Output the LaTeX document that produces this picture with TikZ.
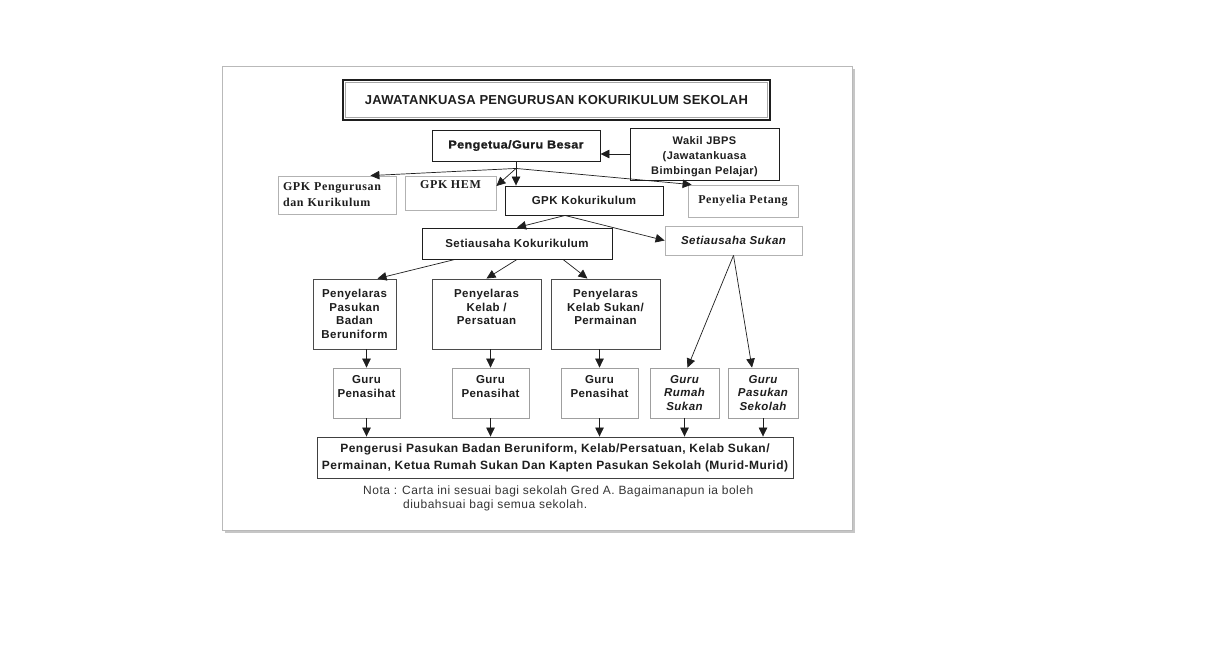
\documentclass[tikz,border=0pt]{standalone}
\usepackage{fontspec}
\setmainfont{Liberation Sans}[LetterSpace=4]
\newfontfamily\serifb{Liberation Serif}[LetterSpace=5]
\newfontfamily\titlef{Liberation Sans}[LetterSpace=2]
\newfontfamily\blackf{Liberation Sans}[BoldFeatures={FakeBold=1.2, FakeStretch=1.1}, LetterSpace=3]
\usetikzlibrary{arrows.meta,calc}
\definecolor{ink}{HTML}{1E1E1E}
\tikzset{
  box/.style={draw=ink, line width=0.9pt, fill=white, align=center, inner sep=2pt, font=\fontsize{11.5}{13.5}\selectfont\bfseries, text=ink},
  gbox/.style={box, draw=gray!60, line width=0.8pt},
  sbox/.style={gbox, font=\fontsize{12}{16}\serifb\bfseries},
  arr/.style={draw=ink, line width=0.7pt, -{Triangle[length=9pt,width=8.5pt]}},
  ln/.style={draw=ink, line width=0.7pt},
}
\begin{document}
\begin{tikzpicture}[x=1pt,y=-1pt]
\useasboundingbox (0,0) rectangle (1218,645);
\fill[white] (0,0) rectangle (1218,645);
% card with shadow
\fill[gray!45] (225,69) rectangle (855,533);
\draw[gray!55, line width=0.6pt, fill=white] (222,66) rectangle (852,530);
% title
\node[draw=ink, line width=2pt, minimum width=427, minimum height=40, inner sep=0pt,
      font=\fontsize{13}{14}\titlef\bfseries, text=ink] (title) at (556.5,100)
      {\raisebox{-4pt}{JAWATANKUASA PENGURUSAN KOKURIKULUM SEKOLAH}};
\draw[gray!70, line width=0.6pt] ([shift={(3.5,3.5)}]title.north west) rectangle ([shift={(-3.5,-3.5)}]title.south east);
% top level
\node[box, minimum width=168, minimum height=31, font=\fontsize{11.5}{13}\blackf\bfseries] (peng) at (516,145.5) {Pengetua/Guru Besar};
\node[box, minimum width=149, minimum height=52, font=\fontsize{11}{15}\selectfont\bfseries] (wakil) at (704.5,154) {\rule{0pt}{14pt}Wakil JBPS\\(Jawatankuasa\\Bimbingan Pelajar)};
% second level
\node[sbox, minimum width=118, minimum height=38, text width=108, align=left] (gpkp) at (337,195) {GPK Pengurusan\\dan Kurikulum};
\node[sbox, minimum width=91, minimum height=34] (gpkh) at (450.5,193) {GPK HEM\\\mbox{}};
\node[box, minimum width=158, minimum height=29] (gpkk) at (584,200.5) {GPK Kokurikulum};
\node[sbox, minimum width=110, minimum height=32, font=\fontsize{12}{13}\serifb\bfseries] (peny) at (743,201) {Penyelia Petang};
% third level
\node[box, minimum width=190, minimum height=31] (setk) at (517,243.5) {Setiausaha Kokurikulum};
\node[gbox, minimum width=137, minimum height=29, font=\fontsize{11.5}{13}\selectfont\bfseries\itshape] (sets) at (733.5,240.5) {Setiausaha Sukan};
% penyelaras
\node[box, draw=ink!80, minimum width=83, minimum height=70] (py1) at (354.5,314) {Penyelaras\\Pasukan\\Badan\\Beruniform};
\node[box, draw=ink!80, minimum width=109, minimum height=70] (py2) at (486.5,314) {Penyelaras\\Kelab /\\Persatuan\\\mbox{}};
\node[box, draw=ink!80, minimum width=109, minimum height=70] (py3) at (605.5,314) {Penyelaras\\Kelab Sukan/\\Permainan\\\mbox{}};
% guru
\node[gbox, draw=gray!75, minimum width=67, minimum height=50] (gp1) at (366.5,393) {Guru\\Penasihat\\\mbox{}};
\node[gbox, draw=gray!75, minimum width=77, minimum height=50] (gp2) at (490.5,393) {Guru\\Penasihat\\\mbox{}};
\node[gbox, draw=gray!75, minimum width=77, minimum height=50] (gp3) at (599.5,393) {Guru\\Penasihat\\\mbox{}};
\node[gbox, draw=gray!75, minimum width=69, minimum height=50, font=\fontsize{11.5}{13.5}\selectfont\bfseries\itshape] (grs) at (684.5,393) {Guru\\Rumah\\Sukan};
\node[gbox, draw=gray!75, minimum width=70, minimum height=50, font=\fontsize{11.5}{13.5}\selectfont\bfseries\itshape] (gps) at (763,393) {Guru\\Pasukan\\Sekolah};
% bottom
\node[box, draw=ink!85, minimum width=476, minimum height=41, font=\fontsize{12}{17}\selectfont\bfseries] (bot) at (555,457.5)
  {Pengerusi Pasukan Badan Beruniform, Kelab/Persatuan, Kelab Sukan/\\Permainan, Ketua Rumah Sukan Dan Kapten Pasukan Sekolah (Murid-Murid)};
\node[anchor=north west, align=left, inner sep=0pt, font=\fontsize{12}{14}\selectfont, text=ink!90] (nota) at (363,486)
  {Nota : Carta ini sesuai bagi sekolah Gred A. Bagaimanapun ia boleh\\\hspace*{40pt}diubahsuai bagi semua sekolah.};
% connectors
\draw[arr] (wakil.west) -- (wakil.west -| peng.east);
\coordinate (j1) at ($(peng.south)+(0,7)$);
\draw[ln] (peng.south) -- (j1);
\draw[arr] (j1) -- ([xshift=-26pt]gpkp.north east);
\draw[arr] (j1) -- ([yshift=7pt]gpkh.east);
\draw[arr] (j1) -- (j1 |- gpkk.north);
\draw[arr] (j1) -- ([xshift=4pt]peny.north west);
\coordinate (j2) at ([xshift=-19pt]gpkk.south);
\draw[arr] (j2) -- (setk.north);
\draw[arr] (j2) -- (sets.west);
\draw[arr] ([xshift=-62pt]setk.south) -- ([xshift=23pt]py1.north);
\draw[arr] (setk.south) -- (py2.north);
\draw[arr] ([xshift=46pt]setk.south) -- ([xshift=-18pt]py3.north);
\draw[arr] (gp1.north |- py1.south) -- (gp1.north);
\draw[arr] (gp2.north |- py2.south) -- (gp2.north);
\draw[arr] (gp3.north |- py3.south) -- (gp3.north);
\draw[arr] (sets.south) -- ([xshift=3pt]grs.north);
\draw[arr] (sets.south) -- ([xshift=-11pt]gps.north);
\foreach \g in {gp1,gp2,gp3,grs,gps} {
  \draw[arr] (\g.south) -- (\g.south |- bot.north);
}
\end{tikzpicture}
\end{document}
